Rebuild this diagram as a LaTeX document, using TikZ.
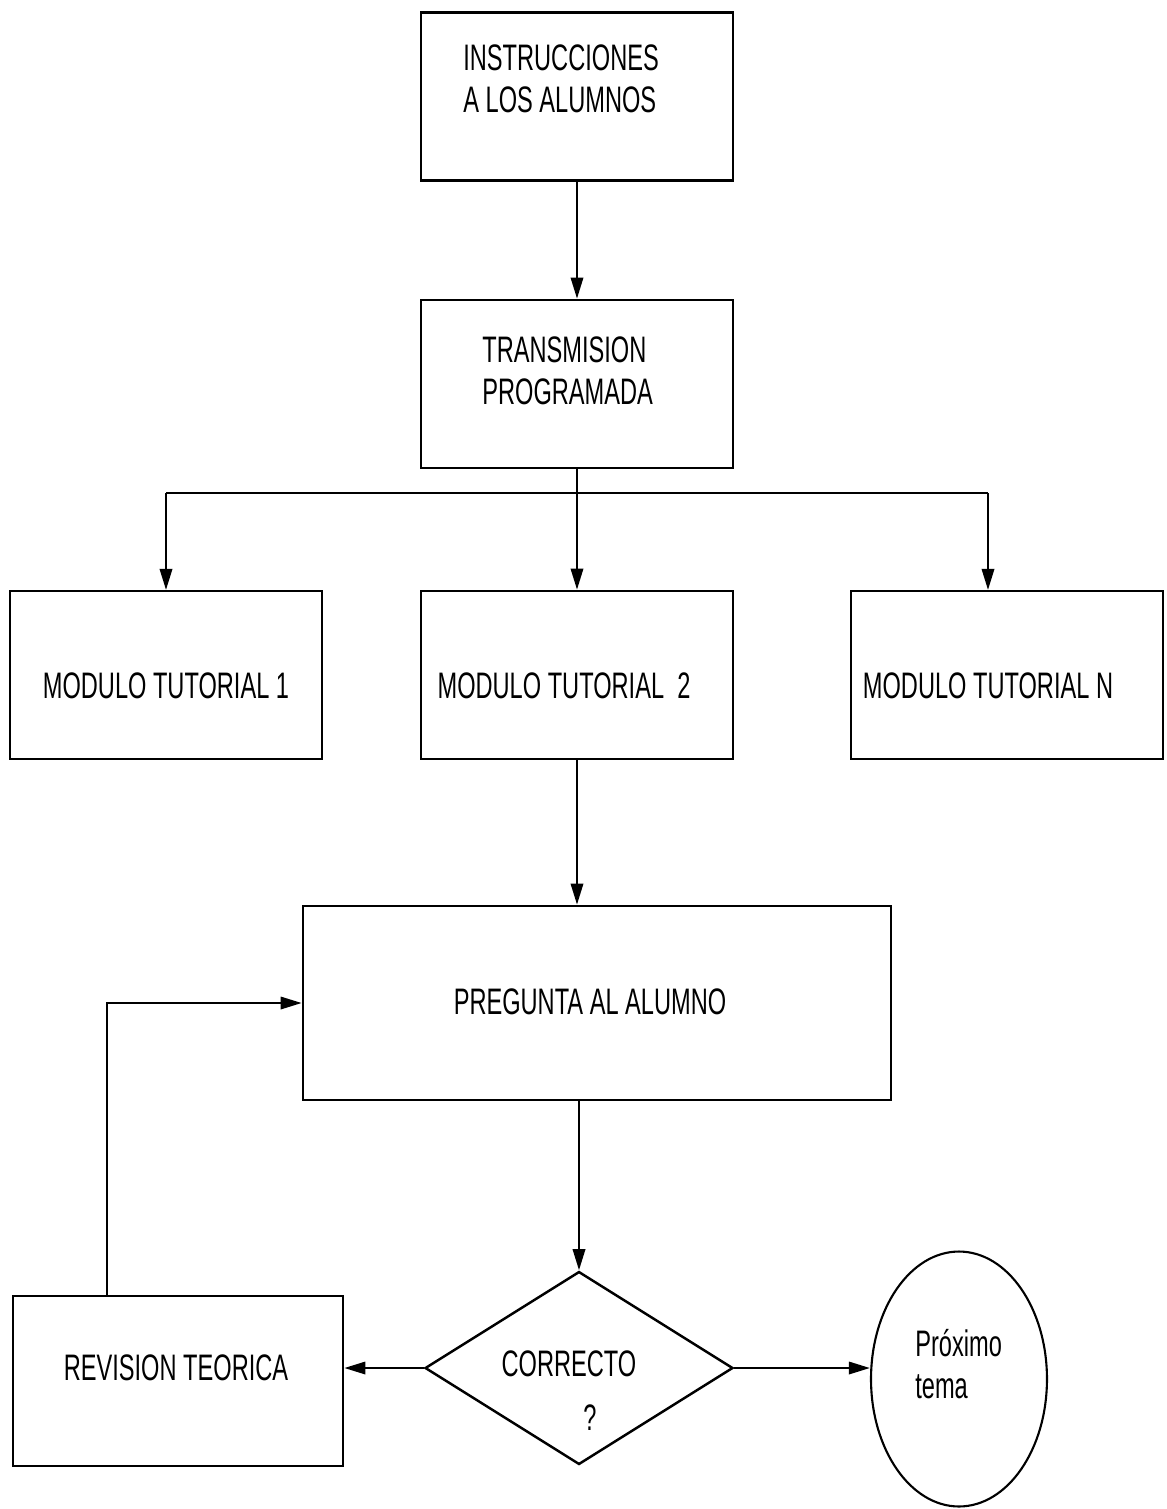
\documentclass[tikz,border=0pt]{standalone}
\usepackage{fontspec}
\setmainfont{Liberation Sans}[FakeStretch=0.64]
\usetikzlibrary{shapes.geometric,arrows.meta}
\begin{document}
\begin{tikzpicture}[x=0.02cm,y=-0.02cm,
  box/.style={draw,line width=1.5pt,inner sep=0pt,minimum width=6.24cm,minimum height=3.36cm},
  lbl/.style={anchor=west,inner sep=0pt,font=\fontsize{21}{24}\selectfont,align=left},
  clbl/.style={inner sep=0pt,font=\fontsize{21}{24}\selectfont},
  conn/.style={line width=1.4pt,-{Triangle[length=12pt,width=7pt]}},
  wire/.style={line width=1.6pt}]
\useasboundingbox (0,0) rectangle (1167,1509);

% boxes
\node[box] (instr) at (577,96.5) {};
\node[box] (trans) at (577,384) {};
\node[box] (mod1) at (166,675) {};
\node[box] (mod2) at (577,675) {};
\node[box] (modn) at (1007,675) {};
\node[box,minimum width=11.76cm,minimum height=3.88cm] (preg) at (597,1003) {};
\node[box,minimum width=6.6cm,minimum height=3.4cm] (rev) at (178,1381) {};
\node[draw,diamond,line width=1.4pt,inner sep=0pt,minimum width=6.16cm,minimum height=3.86cm] (corr) at (579,1368) {};
\node[draw,ellipse,line width=1.2pt,inner sep=0pt,minimum width=3.52cm,minimum height=5.1cm] (prox) at (959,1379) {};

% labels
\node[lbl] (tinstr) at (463,79) {INSTRUCCIONES\\A LOS ALUMNOS};
\node[lbl] (ttrans) at (482,371) {TRANSMISION\\PROGRAMADA};
\node[clbl] (tmod1) at (166,686) {MODULO TUTORIAL 1};
\node[clbl] (tmod2) at (564,686) {MODULO TUTORIAL\ \ 2};
\node[clbl] (tmodn) at (988,686) {MODULO TUTORIAL N};
\node[clbl] (tpreg) at (590,1002) {PREGUNTA AL ALUMNO};
\node[clbl] (trev) at (176,1368) {REVISION TEORICA};
\node[clbl] (tcorr) at (569,1364) {CORRECTO};
\node[clbl] (tq) at (590,1418) {?};
\node[lbl] (tprox) at (915,1364) {Próximo\\tema};

% connectors
\draw[conn] (instr.south) -- (trans.north);
\draw[conn] (trans.south) -- (mod2.north);
\draw[wire] (166,493) -- (988,493);
\draw[conn] (166,493) -- (166,590);
\draw[conn] (988,493) -- (988,590);
\draw[conn] (mod2.south) -- (preg.north -| mod2.south);
\draw[conn] (preg.south -| corr.north) -- (corr.north);
\draw[conn] (corr.west) -- (rev.east |- corr.west);
\draw[conn] (corr.east) -- (prox.west |- corr.east);
\draw[conn] (rev.north -| 107,0) |- (preg.west);
\end{tikzpicture}
\end{document}
